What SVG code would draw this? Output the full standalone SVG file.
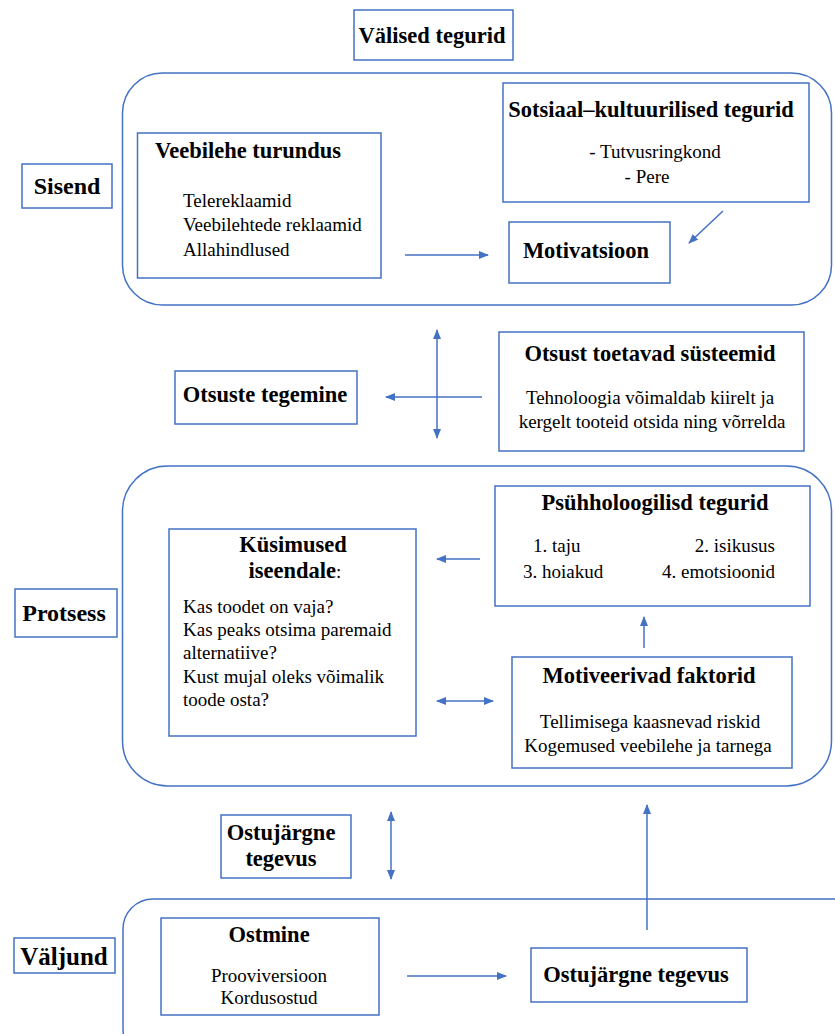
<svg xmlns="http://www.w3.org/2000/svg" width="835" height="1034" viewBox="0 0 835 1034">
<defs>
<style>
.b{fill:#fff;stroke:#4472C4;stroke-width:1.5}
.g{fill:none;stroke:#4472C4;stroke-width:1.5}
.c{stroke:#4472C4;stroke-width:1.5;fill:none}
text{font-family:"Liberation Serif","Times New Roman",serif;fill:#000}
.t{font-size:22.5px;font-weight:bold}
.L{font-size:24px;font-weight:bold}
.n{font-size:19px}
.m{text-anchor:middle}
</style>
<marker id="ah" markerWidth="10" markerHeight="8" refX="9" refY="4" orient="auto-start-reverse" markerUnits="userSpaceOnUse">
<path d="M0,0 L10,4 L0,8 Z" fill="#4472C4"/>
</marker>
</defs>
<rect width="835" height="1034" fill="#fff"/>
<g id="group-sisend"><rect class="g" x="122.5" y="73" width="709" height="232" rx="40"/></g>
<g id="group-protsess"><rect class="g" x="122.5" y="466" width="709" height="320" rx="45"/></g>
<g id="group-valjund"><rect class="g" x="123" y="899" width="740" height="160" rx="30"/></g>

<g id="valised"><rect class="b" x="354" y="10" width="159" height="50"/><text class="t m" x="432" y="43">Välised tegurid</text></g>
<g id="sisend"><rect class="b" x="22" y="164" width="90" height="44"/><text class="L m" x="67" y="194">Sisend</text></g>
<g id="veebilehe"><rect class="b" x="137.5" y="133" width="243.5" height="145"/>
<text class="t" x="155" y="158">Veebilehe turundus</text>
<text class="n" x="183" y="207">Telereklaamid</text>
<text class="n" x="183" y="231">Veebilehtede reklaamid</text>
<text class="n" x="183" y="256">Allahindlused</text></g>
<g id="sotsiaal"><rect class="b" x="503" y="83" width="306" height="119"/>
<text class="t m" x="651" y="117">Sotsiaal–kultuurilised tegurid</text>
<text class="n m" x="655" y="158">- Tutvusringkond</text>
<text class="n m" x="647" y="183">- Pere</text></g>
<g id="motivatsioon"><rect class="b" x="509" y="222" width="161" height="61"/><text class="t m" x="586" y="258">Motivatsioon</text></g>

<g id="otsuste"><rect class="b" x="175" y="371" width="182" height="53"/><text class="t m" x="265" y="402">Otsuste tegemine</text></g>
<g id="otsust-toetavad"><rect class="b" x="499" y="332" width="305" height="119"/>
<text class="t m" x="650" y="361">Otsust toetavad süsteemid</text>
<text class="n m" x="650" y="404">Tehnoloogia võimaldab kiirelt ja</text>
<text class="n m" x="652" y="428">kergelt tooteid otsida ning võrrelda</text></g>

<g id="protsess"><rect class="b" x="15" y="589" width="102" height="48"/><text class="L m" x="64" y="621">Protsess</text></g>
<g id="kysimused"><rect class="b" x="169" y="529" width="247" height="207"/>
<text class="t m" x="293" y="552">Küsimused</text>
<text class="m" x="295" y="578"><tspan class="t">iseendale</tspan><tspan class="n">:</tspan></text>
<text class="n" x="183" y="613">Kas toodet on vaja?</text>
<text class="n" x="183" y="636">Kas peaks otsima paremaid</text>
<text class="n" x="183" y="659">alternatiive?</text>
<text class="n" x="183" y="683">Kust mujal oleks võimalik</text>
<text class="n" x="183" y="706">toode osta?</text></g>
<g id="psyhholoogilised"><rect class="b" x="495" y="486" width="315" height="120"/>
<text class="t m" x="655" y="510">Psühholoogilisd tegurid</text>
<text class="n" x="533" y="552">1. taju</text>
<text class="n" x="775" y="552" text-anchor="end">2. isikusus</text>
<text class="n" x="523" y="578">3. hoiakud</text>
<text class="n" x="775" y="578" text-anchor="end">4. emotsioonid</text></g>
<g id="motiveerivad"><rect class="b" x="512" y="657" width="280" height="111"/>
<text class="t m" x="649" y="683">Motiveerivad faktorid</text>
<text class="n m" x="650" y="728">Tellimisega kaasnevad riskid</text>
<text class="n m" x="648" y="752">Kogemused veebilehe ja tarnega</text></g>

<g id="ostujargne-left"><rect class="b" x="221" y="815" width="130" height="63"/>
<text class="t m" x="281" y="840">Ostujärgne</text>
<text class="t m" x="281" y="866">tegevus</text></g>

<g id="valjund"><rect class="b" x="14" y="938" width="101" height="35"/><text class="L m" x="64" y="965" style="font-size:25px">Väljund</text></g>
<g id="ostmine"><rect class="b" x="161" y="918" width="218" height="97"/>
<text class="t m" x="269" y="942">Ostmine</text>
<text class="n m" x="269" y="982">Prooviversioon</text>
<text class="n m" x="269" y="1004">Kordusostud</text></g>
<g id="ostujargne-right"><rect class="b" x="531" y="948" width="216" height="54"/><text class="t m" x="636" y="982">Ostujärgne tegevus</text></g>

<g id="connectors">
<line class="c" x1="405" y1="255" x2="488" y2="255" marker-end="url(#ah)"/>
<line class="c" x1="723" y1="211" x2="689" y2="243" marker-end="url(#ah)"/>
<line class="c" x1="437" y1="330" x2="437" y2="438" marker-start="url(#ah)" marker-end="url(#ah)"/>
<line class="c" x1="482" y1="397" x2="386" y2="397" marker-end="url(#ah)"/>
<line class="c" x1="480" y1="559" x2="437" y2="559" marker-end="url(#ah)"/>
<line class="c" x1="644" y1="648" x2="644" y2="617" marker-end="url(#ah)"/>
<line class="c" x1="437" y1="701" x2="493" y2="701" marker-start="url(#ah)" marker-end="url(#ah)"/>
<line class="c" x1="391" y1="812" x2="391" y2="879" marker-start="url(#ah)" marker-end="url(#ah)"/>
<line class="c" x1="647" y1="930" x2="647" y2="805" marker-end="url(#ah)"/>
<line class="c" x1="407" y1="976" x2="506" y2="976" marker-end="url(#ah)"/>
</g>
</svg>
